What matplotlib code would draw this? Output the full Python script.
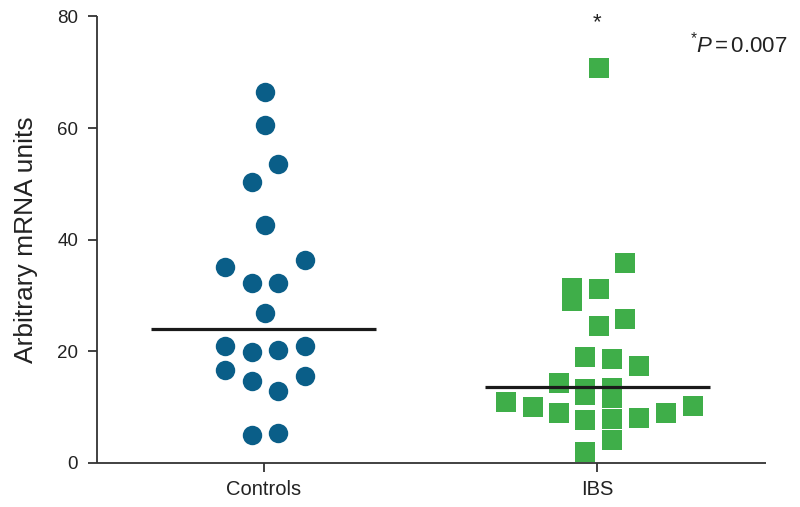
import numpy as np
import matplotlib
matplotlib.use("Agg")
import matplotlib.pyplot as plt

# Groups on the x axis
groups = ['Controls', 'IBS']

# Controls: values and horizontal spread
controls_values = [66.4, 60.6, 53.6, 50.3, 42.6, 36.3, 35.1, 32.3, 32.2, 26.9,
                   21.0, 20.9, 20.3, 19.9, 16.7, 15.5, 14.7, 12.9, 5.4, 5.0]
controls_spread = [0.005, 0.005, 0.044, -0.035, 0.005, 0.125, -0.115, -0.035, 0.044, 0.005,
                   0.125, -0.115, 0.044, -0.035, -0.115, 0.125, -0.035, 0.044, 0.044, -0.035]

# IBS: values and horizontal spread
ibs_values = [70.8, 35.9, 31.4, 29.0, 31.2, 25.8, 24.6, 19.0, 18.6, 17.4,
              14.3, 13.3, 12.1, 13.5, 11.7, 11.0, 10.1, 8.9, 7.7, 7.9,
              4.2, 8.1, 9.0, 10.2, 2.0]
ibs_spread = [0.005, 0.084, -0.075, -0.075, 0.005, 0.084, 0.005, -0.036, 0.045, 0.124,
              -0.115, -0.036, -0.036, 0.045, 0.045, -0.275, -0.194, -0.115, -0.036, 0.045,
              0.045, 0.124, 0.204, 0.285, -0.036]

# Median lines
medians = [24.0, 13.6]

y_ticks = [0, 20, 40, 60, 80]

plt.rcParams['font.family'] = ['Liberation Sans', 'DejaVu Sans']
plt.rcParams['mathtext.fontset'] = 'custom'
plt.rcParams['mathtext.rm'] = 'Liberation Sans'
plt.rcParams['mathtext.it'] = 'Liberation Sans:italic'

fig = plt.figure(figsize=(8, 5.07), dpi=100)
ax = fig.add_axes([0.121, 0.0868, 0.8365, 0.8807])

blue = '#0a5e88'
green = '#3fae49'
dark = '#333333'
text_col = '#222222'

ax.plot(1 + np.array(controls_spread), controls_values, linestyle='none',
        marker='o', markersize=14, color=blue, markeredgewidth=0, zorder=2)
ax.plot(2 + np.array(ibs_spread), ibs_values, linestyle='none',
        marker='s', markersize=14, color=green, markeredgewidth=0, zorder=2)

# === Median bars ===
for i, m in enumerate(medians):
    ax.plot([i + 1 - 0.337, i + 1 + 0.337], [m, m], color='#1a1a1a', lw=2.3,
            solid_capstyle='butt', zorder=3)

ax.set_xlim(0.5, 2.505)
ax.set_ylim(0, 80)
ax.set_xticks([1, 2])
ax.set_xticklabels(groups)
ax.set_yticks(y_ticks)

for side in ['top', 'right']:
    ax.spines[side].set_visible(False)
for side in ['left', 'bottom']:
    ax.spines[side].set_color(dark)
    ax.spines[side].set_linewidth(1.3)
    ax.spines[side].set_capstyle('butt')

ax.tick_params(axis='both', direction='out', length=6.5, width=1.3, color=dark,
               labelcolor=text_col)
ax.tick_params(axis='y', labelsize=13.5, pad=7)
ax.tick_params(axis='x', labelsize=14.5, pad=6)

ax.set_ylabel('Arbitrary mRNA units', fontsize=19, color=text_col, labelpad=14)

# Significance marks
ax.text(2.0, 78.8, '*', ha='center', va='center', fontsize=16, color=text_col)
fig.text(0.984, 0.913, r'$^{*}\mathit{P}\,$=$\,$0.007', ha='right', va='center',
         fontsize=16, color=text_col)

fig.savefig('out.png', dpi=100)
